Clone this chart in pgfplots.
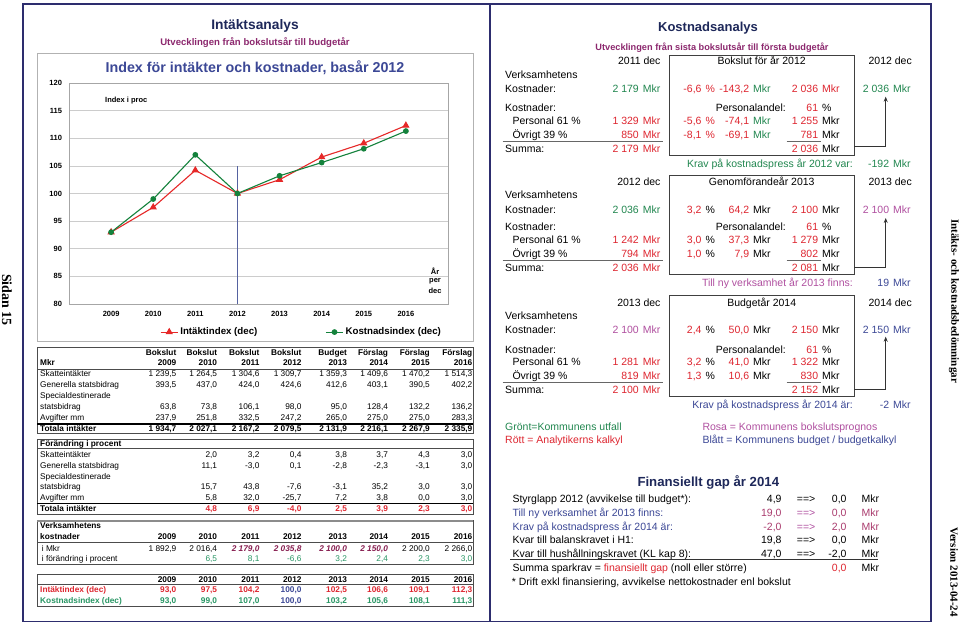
\documentclass[border=0pt]{standalone}
\usepackage{pgfplots}
\pgfplotsset{compat=1.18}
\usetikzlibrary{arrows.meta}
\usepackage{fontspec}
\setmainfont{Liberation Sans}
\newfontfamily\serifb{Liberation Serif}
\newcommand\fs[1]{\fontsize{#1}{#1}\selectfont}
\definecolor{cred}{RGB}{222,38,48}
\definecolor{cgreen}{RGB}{34,135,80}
\definecolor{cteal}{RGB}{40,150,100}
\definecolor{cpink}{RGB}{176,80,160}
\definecolor{cblue}{RGB}{60,72,150}
\definecolor{cpurple}{RGB}{140,40,110}
\definecolor{cnavy}{RGB}{30,40,90}
\definecolor{cmaroon}{RGB}{135,30,80}
\definecolor{cmag}{RGB}{170,60,110}
\definecolor{cframe}{RGB}{45,45,110}
\definecolor{lred}{RGB}{230,40,40}
\definecolor{lgreen}{RGB}{20,130,60}
\tikzset{
 L/.style={inner sep=0pt, text height=5.9pt, text depth=0pt, font=\fs{8.3}},
 LB/.style={L, font=\fs{8.3}\bfseries},
 R/.style={inner sep=0pt, text height=7.5pt, text depth=0pt, font=\fs{10.5}},
 vstyle/.style={}
}
\newcommand\vals[9]{%
\node[L,anchor=east,vstyle] at (176.5,#1) {#2};
\node[L,anchor=east,vstyle] at (217.3,#1) {#3};
\node[L,anchor=east,vstyle] at (259.7,#1) {#4};
\node[L,anchor=east,vstyle] at (301.7,#1) {#5};
\node[L,anchor=east,vstyle] at (347.2,#1) {#6};
\node[L,anchor=east,vstyle] at (388.2,#1) {#7};
\node[L,anchor=east,vstyle] at (430,#1) {#8};
\node[L,anchor=east,vstyle] at (472.5,#1) {#9};}
\newcommand\pair[6]{\node[R,anchor=east,text=#3] at (#1,#2) {#4};\node[R,anchor=west,text=#5] at ({#1+3.6},#2) {#6};}
\begin{document}
\begin{tikzpicture}
\useasboundingbox (0,0) rectangle (960pt,-623pt);
\fill[white] (0,0) rectangle (960pt,-623pt);
\begin{scope}[x=1pt,y=-1pt]
\draw[cframe, line width=1.2pt] (23,4) rectangle (931,621.5);
\draw[cframe, line width=1.2pt] (490,4) -- (490,621.5);
\draw[black!30, line width=0.8pt] (37,53) rectangle (473,341);
\node[font=\fs{13.8}\bfseries, text=cnavy, inner sep=0pt] at (255,26) {Intäktsanalys};
\node[font=\fs{9.6}\bfseries, text=cpurple, inner sep=0pt] at (255,42.3) {Utvecklingen från bokslutsår till budgetår};
\node[font=\fs{14.3}\bfseries, text=cblue, inner sep=0pt] at (255,68) {Index för intäkter och kostnader, basår 2012};
\end{scope}
\begin{axis}[
 at={(69pt,-304pt)}, anchor=south west, scale only axis,
 width=379pt, height=221pt,
 xmin=2008, xmax=2017, ymin=80, ymax=120,
 xtick={2009,2010,...,2016}, ytick={80,85,...,120},
 /pgf/number format/assume math mode=true,
 /pgf/number format/1000 sep={},
 tick label style={font=\fs{7.5}\bfseries},
 xticklabel style={yshift=-4pt},
 yticklabel style={xshift=-3.5pt},
 major tick length=0pt,
 ymajorgrids, grid style={draw=black!20, line width=0.6pt},
 axis line style={draw=black!35, line width=0.6pt},
 legend columns=2,
 legend cell align=left,
 legend style={at={(0.24,-0.127)}, anchor=west, draw=none, fill=none, inner sep=0pt,
   font=\fs{9.7}\bfseries, /tikz/every even column/.append style={column sep=66pt}},
]
\addplot[color={rgb,255:red,85;green,98;blue,160}, line width=0.9pt, forget plot] coordinates {(2012,80) (2012,105)};
\addplot[color=lred, line width=1.1pt, mark=triangle*, mark size=3.2pt] coordinates {
(2009,93.0) (2010,97.5) (2011,104.2) (2012,100.0) (2013,102.5) (2014,106.6) (2015,109.1) (2016,112.3)};
\addlegendentry{Intäktindex (dec)}
\addplot[color=lgreen, line width=1.1pt, mark=*, mark size=2.3pt] coordinates {
(2009,93.0) (2010,99.0) (2011,107.0) (2012,100.0) (2013,103.2) (2014,105.6) (2015,108.1) (2016,111.3)};
\addlegendentry{Kostnadsindex (dec)}
\end{axis}
\begin{scope}[x=1pt,y=-1pt]
\node[font=\fs{7.5}\bfseries, anchor=west, inner sep=0pt] at (105,100.7) {Index i proc};
\node[font=\fs{7.5}\bfseries, inner sep=0pt] at (435,270.7) {År};
\node[font=\fs{7.5}\bfseries, inner sep=0pt] at (435,281) {per};
\node[font=\fs{7.5}\bfseries, inner sep=0pt] at (435,291) {dec};
% rotated side texts
\node[font=\serifb\fs{14}\bfseries, rotate=-90, inner sep=0pt] at (7,300) {Sidan 15};
\node[font=\serifb\fs{11}\bfseries, rotate=-90, inner sep=0pt] at (954,301) {Intäkts- och kostnadsbedömningar};
\node[font=\serifb\fs{11}\bfseries, rotate=-90, inner sep=0pt] at (954,572) {Version 2013-04-24};
% ---------- Table 1
\draw[black!70, line width=0.8pt] (37,347) rectangle (473,433.3);
\draw[black!70, line width=0.6pt] (37,369.3) -- (473,369.3);
\draw[black, line width=1.4pt] (37,423.8) -- (473,423.8);
\tikzset{vstyle/.style={font=\fs{8.3}\bfseries}}
\vals{353}{Bokslut}{Bokslut}{Bokslut}{Bokslut}{Budget}{Förslag}{Förslag}{Förslag}
\vals{363}{2009}{2010}{2011}{2012}{2013}{2014}{2015}{2016}
\node[LB,anchor=west] at (40,363) {Mkr};
\tikzset{vstyle/.style={}}
\node[L,anchor=west] at (40,374) {Skatteintäkter};
\vals{374}{1 239,5}{1 264,5}{1 304,6}{1 309,7}{1 359,3}{1 409,6}{1 470,2}{1 514,3}
\node[L,anchor=west] at (40,385) {Generella statsbidrag};
\vals{385}{393,5}{437,0}{424,0}{424,6}{412,6}{403,1}{390,5}{402,2}
\node[L,anchor=west] at (40,395.5) {Specialdestinerade};
\node[L,anchor=west] at (40,406.3) {statsbidrag};
\vals{406.3}{63,8}{73,8}{106,1}{98,0}{95,0}{128,4}{132,2}{136,2}
\node[L,anchor=west] at (40,417.5) {Avgifter mm};
\vals{417.5}{237,9}{251,8}{332,5}{247,2}{265,0}{275,0}{275,0}{283,3}
\tikzset{vstyle/.style={font=\fs{8.3}\bfseries}}
\node[LB,anchor=west] at (40,428.6) {Totala intäkter};
\vals{428.6}{1 934,7}{2 027,1}{2 167,2}{2 079,5}{2 131,9}{2 216,1}{2 267,9}{2 335,9}
% ---------- Table 2
\draw[black!70, line width=0.8pt] (37,439) rectangle (473,514);
\draw[black!70, line width=0.6pt] (37,448.5) -- (473,448.5);
\draw[black, line width=1.4pt] (37,503.3) -- (473,503.3);
\node[LB,anchor=west] at (40,443.7) {Förändring i procent};
\tikzset{vstyle/.style={}}
\node[L,anchor=west] at (40,454.3) {Skatteintäkter};
\vals{454.3}{}{2,0}{3,2}{0,4}{3,8}{3,7}{4,3}{3,0}
\node[L,anchor=west] at (40,465.2) {Generella statsbidrag};
\vals{465.2}{}{11,1}{-3,0}{0,1}{-2,8}{-2,3}{-3,1}{3,0}
\node[L,anchor=west] at (40,476.6) {Specialdestinerade};
\node[L,anchor=west] at (40,486.6) {statsbidrag};
\vals{486.6}{}{15,7}{43,8}{-7,6}{-3,1}{35,2}{3,0}{3,0}
\node[L,anchor=west] at (40,497.6) {Avgifter mm};
\vals{497.6}{}{5,8}{32,0}{-25,7}{7,2}{3,8}{0,0}{3,0}
\node[LB,anchor=west] at (40,508.8) {Totala intäkter};
\tikzset{vstyle/.style={font=\fs{8.3}\bfseries, text=cred}}
\vals{508.8}{}{4,8}{6,9}{-4,0}{2,5}{3,9}{2,3}{3,0}
% ---------- Table 3
\draw[black!70, line width=0.8pt] (37,520.7) rectangle (473,564.3);
\draw[black!45, line width=2.2pt] (37,520.7) -- (473,520.7);
\draw[black!70, line width=0.6pt] (37,541.8) -- (473,541.8);
\node[LB,anchor=west] at (40,526) {Verksamhetens};
\node[LB,anchor=west] at (40,536.7) {kostnader};
\tikzset{vstyle/.style={font=\fs{8.3}\bfseries}}
\vals{536.7}{2009}{2010}{2011}{2012}{2013}{2014}{2015}{2016}
\tikzset{vstyle/.style={}}
\node[L,anchor=west] at (41.7,548.3) {i Mkr};
\vals{548.3}{1 892,9}{2 016,4}{\bfseries\itshape\color{cmaroon}2 179,0}{\bfseries\itshape\color{cmaroon}2 035,8}{\bfseries\itshape\color{cmaroon}2 100,0}{\bfseries\itshape\color{cmaroon}2 150,0}{2 200,0}{2 266,0}
\node[L,anchor=west] at (41.7,559) {i förändring i procent};
\tikzset{vstyle/.style={text=cteal}}
\vals{559}{}{6,5}{8,1}{-6,6}{3,2}{2,4}{2,3}{3,0}
% ---------- Table 4
\draw[black!70, line width=0.8pt] (37,574.3) rectangle (473,606);
\draw[black!70, line width=0.6pt] (37,584.2) -- (473,584.2);
\tikzset{vstyle/.style={font=\fs{8.3}\bfseries}}
\vals{579.3}{2009}{2010}{2011}{2012}{2013}{2014}{2015}{2016}
\node[LB,anchor=west,text=cred] at (40,590) {Intäktindex (dec)};
\tikzset{vstyle/.style={font=\fs{8.3}\bfseries, text=cred}}
\vals{590}{93,0}{97,5}{104,2}{\color{cblue}100,0}{102,5}{106,6}{109,1}{112,3}
\node[LB,anchor=west,text=cteal] at (40,600.7) {Kostnadsindex (dec)};
\tikzset{vstyle/.style={font=\fs{8.3}\bfseries, text=cteal}}
\vals{600.7}{93,0}{99,0}{107,0}{\color{cblue}100,0}{103,2}{105,6}{108,1}{111,3}
% ================= Right panel
\node[font=\fs{13}\bfseries, text=cnavy, inner sep=0pt] at (708,28.3) {Kostnadsanalys};
\node[font=\fs{9.2}\bfseries, text=cpurple, inner sep=0pt] at (712,47.7) {Utvecklingen från sista bokslutsår till första budgetår};
% ---- Section 1
\node[R,anchor=east] at (660.7,61) {2011 dec};
\node[R] at (761.7,61) {Bokslut för år 2012};
\node[R,anchor=east] at (912,61) {2012 dec};
\draw[black!75, line width=0.8pt] (669.3,55) rectangle (854,155.7);
\node[R,anchor=west] at (505,75) {Verksamhetens};
\node[R,anchor=west] at (505,89) {Kostnader:};
\pair{639}{89}{cgreen}{2 179}{cgreen}{Mkr}
\pair{701.7}{89}{cred}{-6,6}{cred}{\%}
\pair{749.3}{89}{cred}{-143,2}{cgreen}{Mkr}
\pair{818.3}{89}{cred}{2 036}{cred}{Mkr}
\pair{889.3}{89}{cgreen}{2 036}{cgreen}{Mkr}
\node[R,anchor=west] at (505,107.7) {Kostnader:};
\node[R,anchor=east] at (786,107.7) {Personalandel:};
\pair{818.3}{107.7}{cred}{61}{black}{\%}
\node[R,anchor=west] at (512.3,121) {Personal 61 \%};
\pair{639}{121}{cred}{1 329}{cred}{Mkr}
\pair{701.7}{121}{cred}{-5,6}{cred}{\%}
\pair{749.3}{121}{cred}{-74,1}{cgreen}{Mkr}
\pair{818.3}{121}{cred}{1 255}{black}{Mkr}
\node[R,anchor=west] at (512.3,135) {Övrigt 39 \%};
\pair{639}{135}{cred}{850}{cred}{Mkr}
\pair{701.7}{135}{cred}{-8,1}{cred}{\%}
\pair{749.3}{135}{cred}{-69,1}{cgreen}{Mkr}
\pair{818.3}{135}{cred}{781}{black}{Mkr}
\draw[black!60, line width=0.8pt] (502.7,141.7) -- (662.7,141.7);
\draw[black!60, line width=0.8pt] (786.7,141.7) -- (820.7,141.7);
\node[R,anchor=west] at (505,148.3) {Summa:};
\pair{639}{148.3}{cred}{2 179}{cred}{Mkr}
\pair{818.3}{148.3}{cred}{2 036}{black}{Mkr}
\draw[black!80, line width=0.7pt, -{Stealth[length=5pt,width=4pt]}] (854,146) -- (885.7,146) -- (885.7,96.7);
\node[R,anchor=east,text=cgreen] at (853,164) {Krav på kostnadspress år 2012 var:};
\pair{889.3}{164}{cgreen}{-192}{cgreen}{Mkr}
% ---- Section 2
\node[R,anchor=east] at (660.7,181.7) {2012 dec};
\node[R] at (761.7,181.7) {Genomförandeår 2013};
\node[R,anchor=east] at (912,181.7) {2013 dec};
\draw[black!75, line width=0.8pt] (669.3,175) rectangle (854,274.3);
\node[R,anchor=west] at (505,195) {Verksamhetens};
\node[R,anchor=west] at (505,209.3) {Kostnader:};
\pair{639}{209.3}{cgreen}{2 036}{cgreen}{Mkr}
\pair{701.7}{209.3}{cred}{3,2}{black}{\%}
\pair{749.3}{209.3}{cred}{64,2}{black}{Mkr}
\pair{818.3}{209.3}{cred}{2 100}{black}{Mkr}
\pair{889.3}{209.3}{cpink}{2 100}{cpink}{Mkr}
\node[R,anchor=west] at (505,226.7) {Kostnader:};
\node[R,anchor=east] at (786,226.7) {Personalandel:};
\pair{818.3}{226.7}{cred}{61}{black}{\%}
\node[R,anchor=west] at (512.3,240) {Personal 61 \%};
\pair{639}{240}{cred}{1 242}{cred}{Mkr}
\pair{701.7}{240}{cred}{3,0}{black}{\%}
\pair{749.3}{240}{cred}{37,3}{black}{Mkr}
\pair{818.3}{240}{cred}{1 279}{black}{Mkr}
\node[R,anchor=west] at (512.3,254) {Övrigt 39 \%};
\pair{639}{254}{cred}{794}{cred}{Mkr}
\pair{701.7}{254}{cred}{1,0}{black}{\%}
\pair{749.3}{254}{cred}{7,9}{black}{Mkr}
\pair{818.3}{254}{cred}{802}{black}{Mkr}
\draw[black!60, line width=0.8pt] (502.7,260.7) -- (662.7,260.7);
\draw[black!60, line width=0.8pt] (786.7,260.7) -- (820.7,260.7);
\node[R,anchor=west] at (505,267.3) {Summa:};
\pair{639}{267.3}{cred}{2 036}{cred}{Mkr}
\pair{818.3}{267.3}{cred}{2 081}{black}{Mkr}
\draw[black!80, line width=0.7pt, -{Stealth[length=5pt,width=4pt]}] (854,267) -- (885.7,267) -- (885.7,218);
\node[R,anchor=east,text=cpink] at (853,282.7) {Till ny verksamhet år 2013 finns:};
\pair{889.3}{282.7}{cblue}{19}{cblue}{Mkr}
% ---- Section 3
\node[R,anchor=east] at (660.7,302.3) {2013 dec};
\node[R] at (761.7,302.3) {Budgetår 2014};
\node[R,anchor=east] at (912,302.3) {2014 dec};
\draw[black!75, line width=0.8pt] (669.3,295) rectangle (854,396.7);
\node[R,anchor=west] at (505,316) {Verksamhetens};
\node[R,anchor=west] at (505,330) {Kostnader:};
\pair{639}{330}{cpink}{2 100}{cpink}{Mkr}
\pair{701.7}{330}{cred}{2,4}{black}{\%}
\pair{749.3}{330}{cred}{50,0}{black}{Mkr}
\pair{818.3}{330}{cred}{2 150}{black}{Mkr}
\pair{889.3}{330}{cblue}{2 150}{cblue}{Mkr}
\node[R,anchor=west] at (505,349.3) {Kostnader:};
\node[R,anchor=east] at (786,349.3) {Personalandel:};
\pair{818.3}{349.3}{cred}{61}{black}{\%}
\node[R,anchor=west] at (512.3,362) {Personal 61 \%};
\pair{639}{362}{cred}{1 281}{cred}{Mkr}
\pair{701.7}{362}{cred}{3,2}{black}{\%}
\pair{749.3}{362}{cred}{41,0}{black}{Mkr}
\pair{818.3}{362}{cred}{1 322}{black}{Mkr}
\node[R,anchor=west] at (512.3,376) {Övrigt 39 \%};
\pair{639}{376}{cred}{819}{cred}{Mkr}
\pair{701.7}{376}{cred}{1,3}{black}{\%}
\pair{749.3}{376}{cred}{10,6}{black}{Mkr}
\pair{818.3}{376}{cred}{830}{black}{Mkr}
\draw[black!60, line width=0.8pt] (502.7,382.7) -- (662.7,382.7);
\draw[black!60, line width=0.8pt] (786.7,382.7) -- (820.7,382.7);
\node[R,anchor=west] at (505,389.3) {Summa:};
\pair{639}{389.3}{cred}{2 100}{cred}{Mkr}
\pair{818.3}{389.3}{cred}{2 152}{black}{Mkr}
\draw[black!80, line width=0.7pt, -{Stealth[length=5pt,width=4pt]}] (854,389) -- (885.7,389) -- (885.7,336.7);
\node[R,anchor=east,text=cblue] at (853,405) {Krav på kostnadspress år 2014 är:};
\pair{889.3}{405}{cblue}{-2}{cblue}{Mkr}
% ---- Colour key
\node[R,anchor=west,text=cgreen] at (505,426.7) {Grönt=Kommunens utfall};
\node[R,anchor=west,text=cred] at (505,440) {Rött = Analytikerns kalkyl};
\node[R,anchor=west,text=cpink] at (702.3,426.7) {Rosa = Kommunens bokslutsprognos};
\node[R,anchor=west,text=cblue] at (702.3,440) {Blått = Kommunens budget / budgetkalkyl};
% ---- Finansiellt gap
\node[font=\fs{13.2}\bfseries, text=cnavy, inner sep=0pt] at (708.3,482.3) {Finansiellt gap år 2014};
\node[R,anchor=west] at (512.3,498.5) {Styrglapp 2012 (avvikelse till budget*):};
\node[R,anchor=east] at (781.7,498.5) {4,9};
\node[R,anchor=west] at (796.7,498.5) {==>};
\pair{846.7}{498.5}{black}{0,0}{black}{\hspace{11pt}Mkr}
\node[R,anchor=west,text=cblue] at (512.3,512.7) {Till ny verksamhet år 2013 finns:};
\node[R,anchor=east,text=cmag] at (781.7,512.7) {19,0};
\node[R,anchor=west,text=cpink] at (796.7,512.7) {==>};
\pair{846.7}{512.7}{cmag}{0,0}{cmag}{\hspace{11pt}Mkr}
\node[R,anchor=west,text=cblue] at (512.3,526.7) {Krav på kostnadspress år 2014 är:};
\node[R,anchor=east,text=cmag] at (781.7,526.7) {-2,0};
\node[R,anchor=west,text=cpink] at (796.7,526.7) {==>};
\pair{846.7}{526.7}{cmag}{2,0}{cmag}{\hspace{11pt}Mkr}
\node[R,anchor=west] at (512.3,540) {Kvar till balanskravet i H1:};
\node[R,anchor=east] at (781.7,540) {19,8};
\node[R,anchor=west] at (796.7,540) {==>};
\pair{846.7}{540}{black}{0,0}{black}{\hspace{11pt}Mkr}
\node[R,anchor=west] at (512.3,553.3) {Kvar till hushållningskravet (KL kap 8):};
\node[R,anchor=east] at (781.7,553.3) {47,0};
\node[R,anchor=west] at (796.7,553.3) {==>};
\pair{846.7}{553.3}{black}{-2,0}{black}{\hspace{11pt}Mkr}
\draw[black!80, line width=0.7pt] (510,559.3) -- (878,559.3);
\node[R,anchor=west] at (512.3,567.3) {Summa sparkrav = \textcolor{cred}{finansiellt gap} (noll eller större)};
\pair{846.7}{567.3}{cred}{0,0}{black}{\hspace{11pt}Mkr}
\node[R,anchor=west] at (511.7,581.7) {* Drift exkl finansiering, avvikelse nettokostnader enl bokslut};
\end{scope}
\end{tikzpicture}
\end{document}
